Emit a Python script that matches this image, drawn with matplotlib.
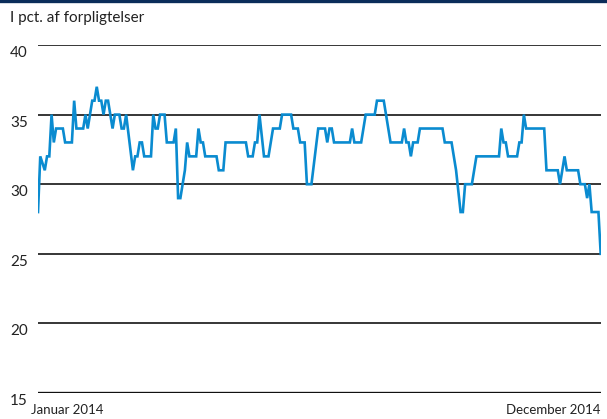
import matplotlib
matplotlib.use("Agg")
import matplotlib.pyplot as plt
from matplotlib.lines import Line2D
from matplotlib.transforms import ScaledTranslation

plt.rcParams['font.family'] = ['Lato', 'DejaVu Sans']

# Business-day index in 2014 (0 = first banking day, 249 = last) and value at each turning point
days = [0, 1, 3, 4, 5, 6, 7, 8, 11, 12, 15, 16, 17, 20, 21, 22, 23, 24, 25, 26,
        27, 28, 29, 30, 31, 33, 34, 36, 37, 38, 39, 42, 43, 44, 45, 46, 47, 50, 51, 52,
        53, 54, 56, 57, 60, 61, 62, 63, 65, 66, 67, 70, 71, 72, 73, 74, 79, 80, 82, 83,
        92, 93, 95, 96, 97, 98, 100, 102, 104, 107, 108, 112, 113, 115, 116, 118, 119, 121, 124, 127,
        128, 129, 130, 131, 138, 139, 140, 143, 145, 149, 150, 153, 156, 161, 162, 163, 164, 165, 166, 168,
        169, 179, 180, 183, 185, 187, 188, 189, 192, 194, 204, 205, 206, 207, 208, 212, 213, 214, 215, 216,
        224, 225, 230, 231, 233, 234, 239, 240, 242, 243, 244, 245, 248, 249]
values = [28, 32, 31, 32, 32, 35, 33, 34, 34, 33, 33, 36, 34, 34, 35, 34, 35, 36, 36, 37,
          36, 36, 35, 36, 36, 34, 35, 35, 34, 34, 35, 31, 32, 32, 33, 33, 32, 32, 35, 34,
          34, 35, 35, 33, 33, 34, 29, 29, 31, 33, 32, 32, 34, 33, 33, 32, 32, 31, 31, 33,
          33, 32, 32, 33, 33, 35, 32, 32, 34, 34, 35, 35, 34, 34, 33, 33, 30, 30, 34, 34,
          33, 34, 34, 33, 33, 34, 33, 33, 35, 35, 36, 36, 33, 33, 34, 33, 33, 32, 33, 33,
          34, 34, 33, 33, 31, 28, 28, 30, 30, 32, 32, 34, 33, 33, 32, 32, 33, 33, 35, 34,
          34, 31, 31, 30, 32, 31, 31, 30, 30, 29, 30, 28, 28, 25]

yticks = [15, 20, 25, 30, 35, 40]
title = "I pct. af forpligtelser"
xlabel_left = "Januar 2014"
xlabel_right = "December 2014"

W, H = 607, 419
fig = plt.figure(figsize=(W / 100, H / 100), dpi=100)
ax = fig.add_axes([38 / W, 1 - 393 / H, (600.7 - 38) / W, (393 - 45) / H])

for y in yticks[1:]:
    ax.axhline(y, color='black', lw=1.1, zorder=1)
ax.axhline(15, color='#111111', lw=2.4, zorder=1)

ax.plot(days, values, color='#0a8bd0', lw=1.9, zorder=3, solid_joinstyle='miter')

ax.set_xlim(0, 249)
ax.set_ylim(15, 40)
for s in ax.spines.values():
    s.set_visible(False)
ax.set_xticks([])
ax.set_yticks(yticks)
ax.set_yticklabels([str(v) for v in yticks])
ax.tick_params(axis='y', length=0, pad=0, labelsize=11, labelcolor='#222222')
for lab in ax.get_yticklabels():
    lab.set_horizontalalignment('left')
    lab.set_verticalalignment('top')
    lab.set_transform(lab.get_transform() + ScaledTranslation(-28 / 100, -1 / 100, fig.dpi_scale_trans))

fig.text(10 / W, 1 - 18 / H, title, fontsize=11, color='#222222', va='center', ha='left')
fig.text(31 / W, 1 - 410 / H, xlabel_left, fontsize=9.5, color='#222222', va='center', ha='left')
fig.text(600 / W, 1 - 410 / H, xlabel_right, fontsize=9.5, color='#222222', va='center', ha='right')

fig.add_artist(Line2D([0, 1], [1 - 1.5 / H, 1 - 1.5 / H], transform=fig.transFigure,
                      color='#0b2d5a', lw=2.4))

fig.savefig("out.png", dpi=100)
